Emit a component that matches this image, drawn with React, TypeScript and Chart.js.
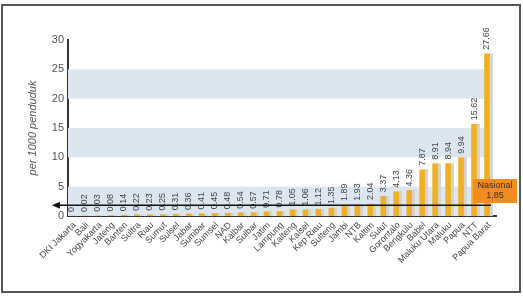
import React, { useEffect, useRef } from "react";
import { Chart, registerables } from "chart.js";

Chart.register(...registerables);

const provinces = [
  "DKI Jakarta", "Bali", "Yogyakarta", "Jateng", "Banten", "Sultra", "Riau", "Sumut",
  "Sulsel", "Jabar", "Sumbar", "Sumsel", "NAD", "Kalbar", "Sulbar", "Jatim", "Lampung",
  "Kalteng", "Kalsel", "Kep Riau", "Sulteng", "Jambi", "NTB", "Kaltim", "Sulut",
  "Gorontalo", "Bengkulu", "Babel", "Maluku Utara", "Maluku", "Papua", "NTT", "Papua Barat",
];

const rates = [
  0, 0.02, 0.03, 0.08, 0.14, 0.22, 0.23, 0.25, 0.31, 0.36, 0.41, 0.45, 0.48, 0.54, 0.57,
  0.71, 0.78, 1.05, 1.06, 1.12, 1.35, 1.89, 1.93, 2.04, 3.37, 4.13, 4.36, 7.87, 8.91,
  8.94, 9.94, 15.62, 27.66,
];

const yTicks = [0, 5, 10, 15, 20, 25, 30];
const bands = [[0, 5], [10, 15], [20, 25]];
const nationalValue = 1.85;
const nationalLabel = ["Nasional", "1,85"];
const yTitle = "per 1000 penduduk";

const FONT = "'Liberation Sans', Arial, sans-serif";

export default function App() {
  const ref = useRef<HTMLCanvasElement>(null);

  useEffect(() => {
    if (!ref.current) return;

    const bandPlugin = {
      id: "bands",
      beforeDatasetsDraw(chart: any) {
        const { ctx, chartArea, scales } = chart;
        const y = scales.y;
        ctx.save();
        ctx.fillStyle = "#dce6f1";
        for (const [a, b] of bands) {
          const y1 = y.getPixelForValue(b);
          const y0 = y.getPixelForValue(a);
          ctx.fillRect(chartArea.left, y1, chartArea.right - chartArea.left - 8, y0 - y1);
        }
        ctx.restore();
      },
    };

    const overlayPlugin = {
      id: "overlay",
      afterDatasetsDraw(chart: any) {
        const { ctx, chartArea, scales } = chart;
        const meta = chart.getDatasetMeta(0);
        ctx.save();
        // value labels
        ctx.font = `9px ${FONT}`;
        ctx.fillStyle = "#444";
        ctx.textAlign = "left";
        ctx.textBaseline = "middle";
        meta.data.forEach((bar: any, i: number) => {
          const v = rates[i];
          const txt = v === 0 ? "0" : v.toFixed(2);
          ctx.save();
          ctx.translate(bar.x, bar.y - 4);
          ctx.rotate(-Math.PI / 2);
          ctx.fillText(txt, 0, 0);
          ctx.restore();
        });
        // national line
        const ny = scales.y.getPixelForValue(nationalValue);
        ctx.strokeStyle = "#111";
        ctx.lineWidth = 1.5;
        ctx.beginPath();
        ctx.moveTo(57, ny);
        ctx.lineTo(chartArea.right - 5, ny);
        ctx.stroke();
        ctx.fillStyle = "#111";
        ctx.beginPath();
        ctx.moveTo(52, ny);
        ctx.lineTo(60, ny - 3.5);
        ctx.lineTo(60, ny + 3.5);
        ctx.closePath();
        ctx.fill();
        // Nasional box
        ctx.fillStyle = "#f58a1f";
        ctx.fillRect(473, 179, 44, 24);
        ctx.fillStyle = "#333";
        ctx.font = `9px ${FONT}`;
        ctx.textAlign = "center";
        ctx.textBaseline = "middle";
        ctx.fillText(nationalLabel[0], 495, 186);
        ctx.fillText(nationalLabel[1], 495, 196);
        ctx.restore();
      },
    };

    const chart = new Chart(ref.current, {
      type: "bar",
      data: {
        labels: provinces,
        datasets: [
          {
            data: rates,
            backgroundColor: "#f2b01e",
            barThickness: 5,
          },
          {
            data: rates,
            backgroundColor: "#d3d3d3",
            barThickness: 3,
          },
        ],
      },
      options: {
        responsive: false,
        animation: false,
        events: [],
        layout: { padding: { left: 0, top: 40, right: 27, bottom: 0 } },
        plugins: { legend: { display: false }, tooltip: { enabled: false } },
        scales: {
          x: {
            grid: { display: false, drawTicks: false },
            border: { display: true, color: "#333", width: 2 },
            ticks: {
              autoSkip: false,
              maxRotation: 45,
              minRotation: 45,
              padding: 4,
              color: "#444",
              font: { family: FONT, size: 9 },
            },
            afterFit: (s: any) => {
              s.height = 84;
            },
          },
          y: {
            min: 0,
            max: 30,
            afterBuildTicks: (s: any) => {
              s.ticks = yTicks.map((v) => ({ value: v }));
            },
            grid: { display: false, drawTicks: false },
            border: { display: true, color: "#333", width: 2 },
            ticks: {
              padding: 4,
              color: "#555",
              font: { family: FONT, size: 11 },
            },
            title: {
              display: true,
              text: yTitle,
              color: "#555",
              padding: { top: 26, bottom: 0 },
              font: { family: FONT, size: 11, style: "italic" },
            },
            afterFit: (s: any) => {
              s.width = 68;
            },
          },
        },
      },
      plugins: [bandPlugin, overlayPlugin],
    });
    return () => chart.destroy();
  }, []);

  return (
    <div style={{ position: "fixed", left: 0, top: 0, width: 523, height: 300, background: "#fff" }}>
      <canvas ref={ref} width={523} height={300} style={{ position: "absolute", left: 0, top: 0 }} />
      <div
        style={{
          position: "absolute",
          left: 1,
          top: 4,
          width: 516,
          height: 285,
          border: "2px solid #555",
          pointerEvents: "none",
        }}
      />
    </div>
  );
}
